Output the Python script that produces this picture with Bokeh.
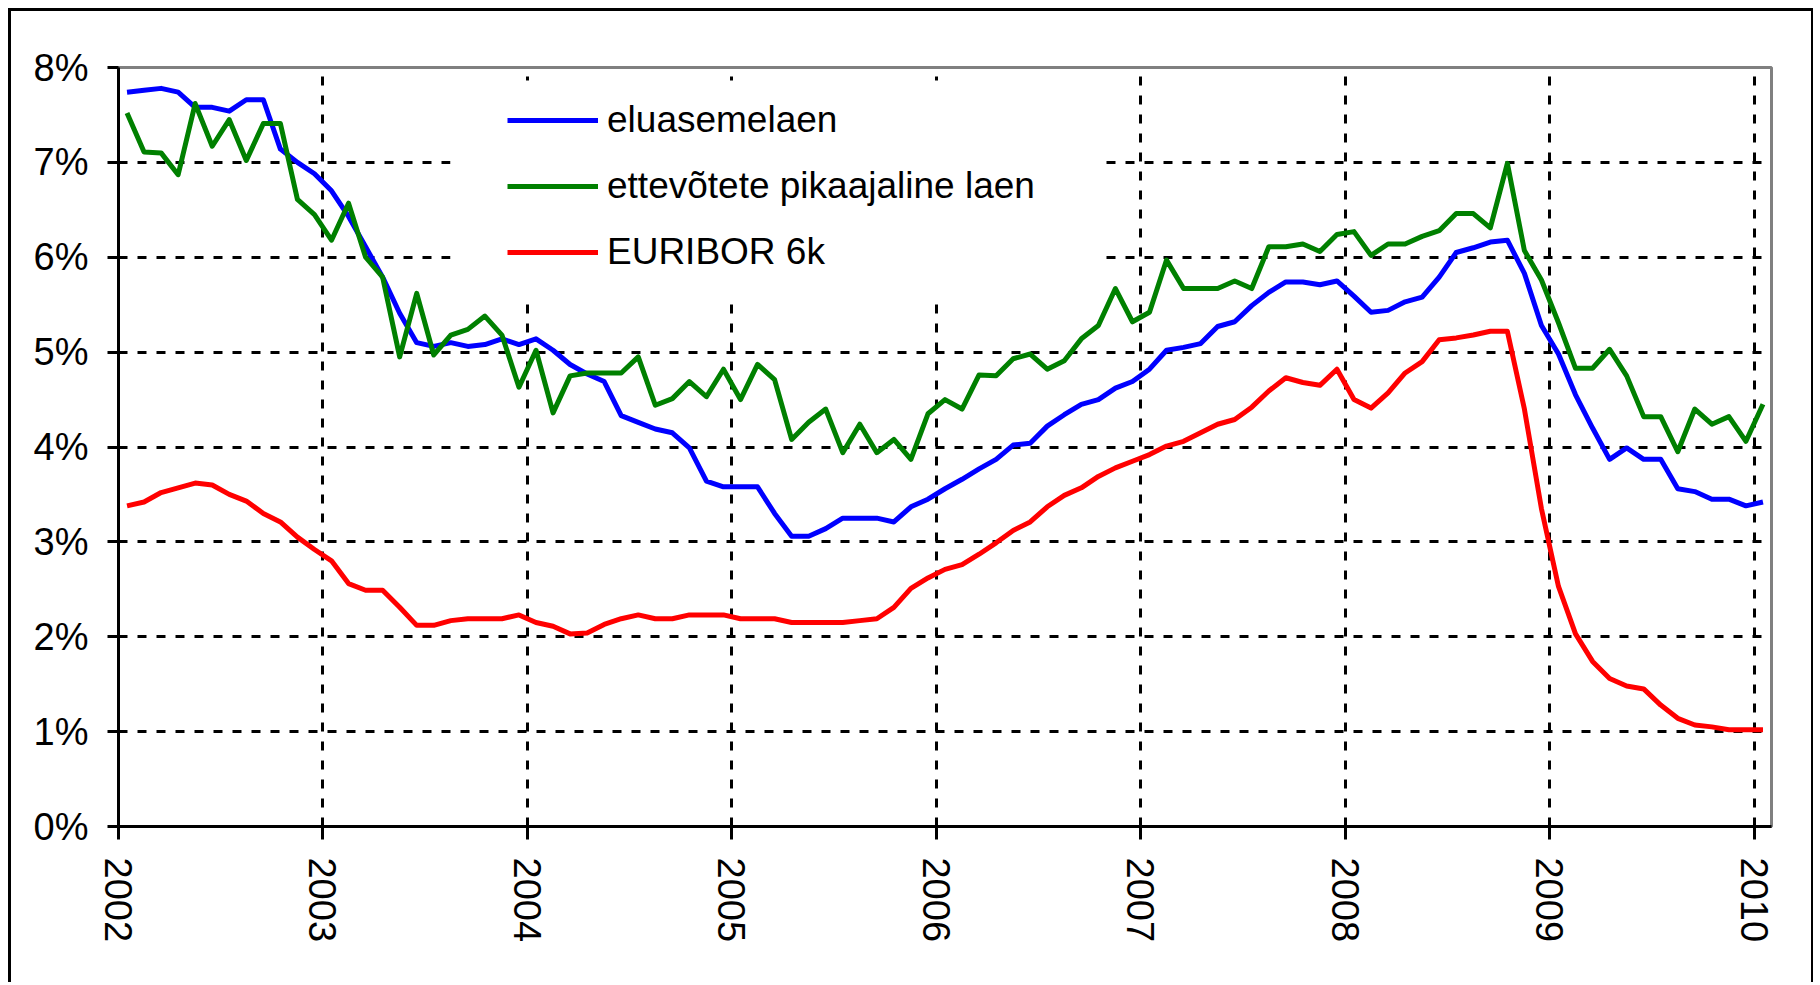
from bokeh.plotting import figure
from bokeh.models import FixedTicker, Legend, LegendItem, Range1d, ColumnDataSource, BoxAnnotation
from bokeh.embed import file_html
from bokeh.resources import INLINE

# monthly observations, January 2002 .. January 2010
months = list(range(97))

eluasemelaen = [
    7.74, 7.76, 7.78, 7.74, 7.58, 7.58, 7.54, 7.66, 7.66, 7.14, 7.00, 6.88, 6.70,
    6.43, 6.11, 5.79, 5.41, 5.10, 5.06, 5.10, 5.06, 5.08, 5.14, 5.08, 5.14, 5.02,
    4.87, 4.77, 4.69, 4.33, 4.26, 4.19, 4.15, 3.99, 3.64, 3.58, 3.58, 3.58, 3.30,
    3.06, 3.06, 3.14, 3.25, 3.25, 3.25, 3.21, 3.37, 3.45, 3.56, 3.66, 3.77,
    3.87, 4.02, 4.04, 4.22, 4.34, 4.45, 4.50, 4.62, 4.69, 4.82, 5.02, 5.05, 5.09,
    5.27, 5.32, 5.49, 5.63, 5.74, 5.74, 5.71, 5.75, 5.59, 5.42, 5.44, 5.53,
    5.58, 5.79, 6.05, 6.10, 6.16, 6.18, 5.83, 5.28, 4.98, 4.55, 4.20, 3.87, 3.99,
    3.87, 3.87, 3.56, 3.53, 3.45, 3.45, 3.38, 3.42,
]

ettevotete = [
    7.52, 7.11, 7.10, 6.87, 7.62, 7.17, 7.45, 7.02, 7.41, 7.41, 6.61, 6.45, 6.18,
    6.57, 6.00, 5.79, 4.95, 5.62, 4.97, 5.18, 5.24, 5.38, 5.18, 4.63, 5.02, 4.36,
    4.75, 4.78, 4.78, 4.78, 4.95, 4.44, 4.51, 4.69, 4.53, 4.82, 4.50, 4.87, 4.71,
    4.08, 4.26, 4.40, 3.94, 4.24, 3.94, 4.08, 3.87, 4.35, 4.50, 4.40, 4.76,
    4.75, 4.93, 4.98, 4.82, 4.91, 5.14, 5.28, 5.67, 5.32, 5.42, 5.97, 5.67, 5.67,
    5.67, 5.75, 5.67, 6.11, 6.11, 6.14, 6.06, 6.24, 6.27, 6.02, 6.14, 6.14,
    6.22, 6.28, 6.46, 6.46, 6.31, 6.99, 6.07, 5.76, 5.31, 4.83, 4.83, 5.03, 4.75,
    4.32, 4.32, 3.95, 4.40, 4.24, 4.32, 4.06, 4.45,
]

euribor = [
    3.38, 3.42, 3.52, 3.57, 3.62, 3.60, 3.50, 3.43, 3.30, 3.21, 3.05, 2.92, 2.80,
    2.56, 2.49, 2.49, 2.31, 2.12, 2.12, 2.17, 2.19, 2.19, 2.19, 2.23, 2.15, 2.11,
    2.03, 2.04, 2.13, 2.19, 2.23, 2.19, 2.19, 2.23, 2.23, 2.23, 2.19, 2.19, 2.19,
    2.15, 2.15, 2.15, 2.15, 2.17, 2.19, 2.31, 2.51, 2.62, 2.71, 2.76, 2.87,
    2.99, 3.12, 3.21, 3.37, 3.49, 3.57, 3.69, 3.78, 3.85, 3.92, 4.01, 4.06, 4.15,
    4.24, 4.29, 4.42, 4.59, 4.73, 4.68, 4.65, 4.82, 4.50, 4.41, 4.57, 4.78,
    4.90, 5.13, 5.15, 5.18, 5.22, 5.22, 4.40, 3.35, 2.53, 2.03, 1.74, 1.56, 1.48,
    1.45, 1.28, 1.14, 1.07, 1.05, 1.02, 1.02, 1.02,
]

series_names = ["eluasemelaen", "ettevõtete pikaajaline laen", "EURIBOR 6k"]
series_colors = ["#0000FF", "#008000", "#FF0000"]

y_ticks = [0, 1, 2, 3, 4, 5, 6, 7, 8]
y_tick_labels = ["0%", "1%", "2%", "3%", "4%", "5%", "6%", "7%", "8%"]
x_ticks = [2002, 2003, 2004, 2005, 2006, 2007, 2008, 2009, 2010]
x_tick_labels = ["2002", "2003", "2004", "2005", "2006", "2007", "2008", "2009", "2010"]

FONT = "Liberation Sans"

x = [2002 + (m + 0.5) / 12 for m in months]
source = ColumnDataSource(dict(x=x, a=eluasemelaen, b=ettevotete, c=euribor))

p = figure(
    width=1805, height=974,
    output_backend="svg", toolbar_location=None,
    x_range=Range1d(2002, 2002 + len(months) / 12),
    y_range=Range1d(0, 8),
    min_border_left=107, min_border_right=45,
    min_border_top=56, min_border_bottom=159,
    background_fill_color="white", border_fill_color="white",
)
p.styles = {
    "margin-left": "8px",
    "margin-top": "8px",
    "border-left": "3px solid black",
    "border-top": "3px solid black",
    "border-right": "2px solid black",
}

p.outline_line_color = "#808080"
p.outline_line_width = 3

# axes
p.xaxis.ticker = FixedTicker(ticks=x_ticks)
p.yaxis.ticker = FixedTicker(ticks=y_ticks)
p.xaxis.major_label_overrides = dict(zip(x_ticks, x_tick_labels))
p.yaxis.major_label_overrides = dict(zip(y_ticks, y_tick_labels))
for ax in (p.xaxis[0], p.yaxis[0]):
    ax.axis_line_color = "black"
    ax.axis_line_width = 3
    ax.major_tick_line_color = "black"
    ax.major_tick_line_width = 3
    ax.major_tick_in = 0
    ax.minor_tick_line_color = None
    ax.major_label_text_font = FONT
    ax.major_label_text_font_size = "38px"
    ax.major_label_text_color = "black"
p.yaxis.major_tick_out = 11
p.yaxis.major_label_standoff = 19
p.xaxis.major_tick_out = 13
p.xaxis.major_label_standoff = 18
p.xaxis.major_label_orientation = "vertical"

# grid
p.xgrid.ticker = FixedTicker(ticks=x_ticks[1:])
p.ygrid.ticker = FixedTicker(ticks=y_ticks[1:-1])
for g in (p.xgrid[0], p.ygrid[0]):
    g.grid_line_color = "black"
    g.grid_line_width = 3
    g.grid_line_dash = "9 10"

# opaque legend area that hides the grid behind the legend
legend_bg = BoxAnnotation(
    left=436, right=1086, top=66, bottom=286,
    left_units="canvas", right_units="canvas", top_units="canvas", bottom_units="canvas",
    fill_color="white", fill_alpha=1.0, line_color=None, level="underlay",
)
p.add_layout(legend_bg)

renderers = []
for col, color in zip(["a", "b", "c"], series_colors):
    r = p.line("x", col, source=source, line_color=color, line_width=5,
               line_join="round")
    renderers.append(r)

legend = Legend(
    items=[LegendItem(label=n, renderers=[r]) for n, r in zip(series_names, renderers)],
    location=(389, 552),
    background_fill_alpha=0.0,
    border_line_color=None,
    padding=0, margin=0, spacing=22,
    glyph_width=91, glyph_height=44, label_height=44,
    label_standoff=9,
    label_text_font=FONT, label_text_font_size="37px", label_text_color="black",
)
p.add_layout(legend)

open("out.html", "w").write(file_html(p, INLINE))
